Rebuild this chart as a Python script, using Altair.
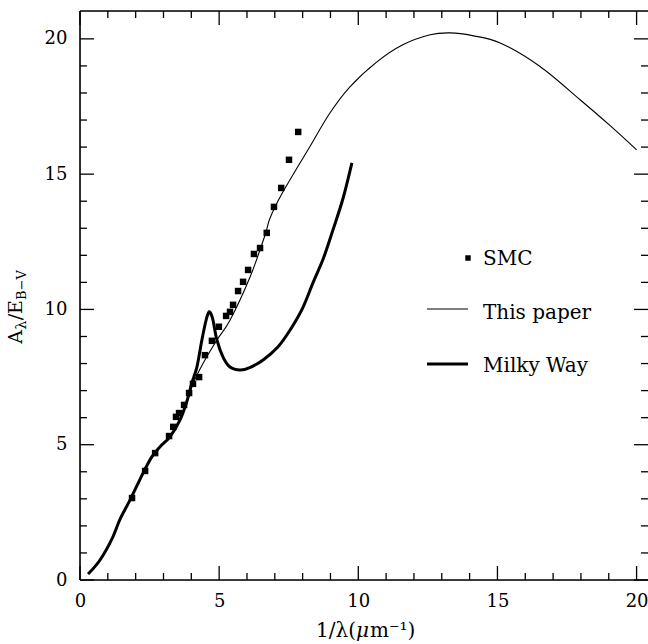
import altair as alt
import pandas as pd

# ---- data ----
smc_x = [1.87, 2.34, 2.70, 3.20, 3.35, 3.45, 3.56, 3.74, 3.92, 4.06, 4.28, 4.49, 4.74, 4.99,
         5.25, 5.39, 5.50, 5.68, 5.86, 6.04, 6.25, 6.47, 6.71, 6.97, 7.23, 7.51, 7.84]
smc_y = [3.03, 4.03, 4.69, 5.32, 5.66, 6.03, 6.17, 6.47, 6.91, 7.25, 7.50, 8.31, 8.84, 9.36,
         9.76, 9.91, 10.17, 10.68, 11.02, 11.46, 12.05, 12.27, 12.83, 13.79, 14.49, 15.53, 16.56]

tp_x = [0.29, 0.72, 1.14, 1.44, 1.80, 2.27, 2.58, 2.87, 3.23, 3.59, 3.84, 4.06, 4.42, 4.92, 5.39,
        6.11, 6.65, 6.83, 7.27, 8.22, 8.98, 9.70, 10.67, 11.6, 12.58, 13.3, 14.1, 15.1, 16.53,
        17.97, 19.04, 20.0]
tp_y = [0.22, 0.74, 1.50, 2.25, 2.96, 3.96, 4.55, 4.92, 5.29, 5.91, 6.55, 7.25, 8.0, 8.87, 9.6,
        11.2, 12.75, 13.38, 14.3, 15.95, 17.26, 18.23, 19.15, 19.78, 20.15, 20.22, 20.12, 19.85,
        18.98, 17.75, 16.8, 15.9]

mw_x = [0.29, 0.72, 1.14, 1.44, 1.80, 2.27, 2.58, 2.87, 3.23, 3.59, 3.84, 4.02, 4.2, 4.38, 4.53,
        4.63, 4.7, 4.78, 4.92, 5.14, 5.39, 5.75, 6.1, 6.58, 7.1, 7.55, 8.0, 8.37, 8.75, 9.09,
        9.45, 9.77]
mw_y = [0.22, 0.74, 1.50, 2.25, 2.96, 3.96, 4.55, 4.92, 5.29, 5.91, 6.6, 7.28, 7.87, 8.87, 9.6,
        9.9, 9.85, 9.6, 8.87, 8.24, 7.87, 7.76, 7.85, 8.13, 8.6, 9.24, 10.05, 10.98, 11.9, 12.94,
        14.1, 15.42]

x_major = [0, 5, 10, 15, 20]
x_minor = [1, 2, 3, 4, 6, 7, 8, 9, 11, 12, 13, 14, 16, 17, 18, 19]
y_major = [0, 5, 10, 15, 20]
y_minor = [1, 2, 3, 4, 6, 7, 8, 9, 11, 12, 13, 14, 16, 17, 18, 19]

legend_labels = ["SMC", "This paper", "Milky Way"]

# ---- layout ----
W, H = 568, 569
FONT = "DejaVu Serif"
xs = alt.Scale(domain=[0, 20.41], nice=False, zero=False)
ys = alt.Scale(domain=[0, 21.03], nice=False, zero=False)

xaxis = alt.Axis(values=x_major, ticks=False, domain=False, grid=False, labelPadding=12,
                 labelFont=FONT, labelFontSize=18, labelColor="black", labelFlush=False,
                 labelOverlap=False, format="d", title=None)
yaxis = alt.Axis(values=y_major, ticks=False, domain=False, grid=False, labelPadding=13,
                 labelFont=FONT, labelFontSize=18, labelColor="black", labelFlush=False,
                 labelOverlap=False, format="d", title=None)


def X(f):
    return alt.X(f, type="quantitative", scale=xs, axis=xaxis, title=None)


def Y(f):
    return alt.Y(f, type="quantitative", scale=ys, axis=yaxis, title=None)


smc = pd.DataFrame({"x": smc_x, "y": smc_y})
tp = pd.DataFrame({"x": tp_x, "y": tp_y})
mw = pd.DataFrame({"x": mw_x, "y": mw_y})

layers = []
layers.append(alt.Chart(mw).mark_line(color="black", strokeWidth=3, interpolate="cardinal")
              .encode(x=X("x"), y=Y("y")))
layers.append(alt.Chart(tp).mark_line(color="black", strokeWidth=1.1, interpolate="cardinal")
              .encode(x=X("x"), y=Y("y")))
layers.append(alt.Chart(smc).mark_square(color="black", size=42, opacity=1)
              .encode(x=X("x"), y=Y("y")))

# ---- frame and inward ticks ----
TW = 1.3
for vals, ln in ((x_major, 14), (x_minor, 7)):
    df = pd.DataFrame({"v": vals})
    layers.append(alt.Chart(df).mark_rule(color="black", strokeWidth=TW)
                  .encode(x=X("v"), y=alt.value(H), y2=alt.value(H - ln)))
    layers.append(alt.Chart(df).mark_rule(color="black", strokeWidth=TW)
                  .encode(x=X("v"), y=alt.value(0), y2=alt.value(ln)))
for vals, ln in ((y_major, 14), (y_minor, 7)):
    df = pd.DataFrame({"v": vals})
    layers.append(alt.Chart(df).mark_rule(color="black", strokeWidth=TW)
                  .encode(y=Y("v"), x=alt.value(0), x2=alt.value(ln)))
    layers.append(alt.Chart(df).mark_rule(color="black", strokeWidth=TW)
                  .encode(y=Y("v"), x=alt.value(W), x2=alt.value(W - ln)))

one = pd.DataFrame({"a": [0]})
layers.append(alt.Chart(one).mark_rule(color="black", strokeWidth=1.6)
              .encode(x=alt.value(0), x2=alt.value(W), y=alt.value(H)))
layers.append(alt.Chart(one).mark_rule(color="black", strokeWidth=1.6)
              .encode(x=alt.value(0), x2=alt.value(W), y=alt.value(0)))
layers.append(alt.Chart(one).mark_rule(color="black", strokeWidth=1.6)
              .encode(x=alt.value(0), y=alt.value(0), y2=alt.value(H)))

# ---- legend ----
leg = pd.DataFrame({"t": legend_labels, "y": [254, 308, 361]})
for i, lab in enumerate(legend_labels):
    layers.append(alt.Chart(leg.iloc[[i]]).mark_text(font=FONT, fontSize=20, align="left",
                                                      baseline="alphabetic", color="black")
                  .encode(x=alt.value(403), y=alt.value(float(leg.y[i])), text="t:N"))
layers.append(alt.Chart(one).mark_square(color="black", size=30, opacity=1)
              .encode(x=alt.value(388), y=alt.value(247)))
layers.append(alt.Chart(one).mark_rule(color="black", strokeWidth=1.1)
              .encode(x=alt.value(347), x2=alt.value(388), y=alt.value(298)))
layers.append(alt.Chart(one).mark_rule(color="black", strokeWidth=3)
              .encode(x=alt.value(347), x2=alt.value(388), y=alt.value(353)))

# ---- axis titles built from text pieces ----
def txt(s, x, y, size, align="left", angle=0, style="normal"):
    d = pd.DataFrame({"s": [s]})
    kw = dict(font=FONT, fontSize=size, align=align, baseline="alphabetic", color="black",
              fontStyle=style)
    if angle:
        kw["angle"] = angle
    return alt.Chart(d).mark_text(**kw).encode(x=alt.value(x), y=alt.value(y), text="s:N")

# x title: 1/λ(μm⁻¹)
layers.append(txt("1/λ(", 276, 626, 20, align="right"))
layers.append(txt("μ", 276, 626, 20, style="italic"))
layers.append(txt("m⁻¹)", 290, 626, 20))

# y title: A_λ / E_B-V (rotated)
layers.append(txt("A", -58, 326, 19, align="center", angle=270))
layers.append(txt("λ", -54, 314, 14, align="center", angle=270))
layers.append(txt("/", -58, 306, 19, align="center", angle=270))
layers.append(txt("E", -58, 296, 19, align="center", angle=270))
layers.append(txt("B−V", -54, 274, 13, align="center", angle=270))

chart = alt.layer(*layers).properties(
    width=W, height=H,
    autosize=alt.AutoSizeParams(type="none"),
    padding={"left": 80, "top": 11, "right": 0, "bottom": 64},
).configure_view(stroke=None).configure(background="white")

chart.save("out.html", embed_options={"renderer": "svg", "actions": False})
